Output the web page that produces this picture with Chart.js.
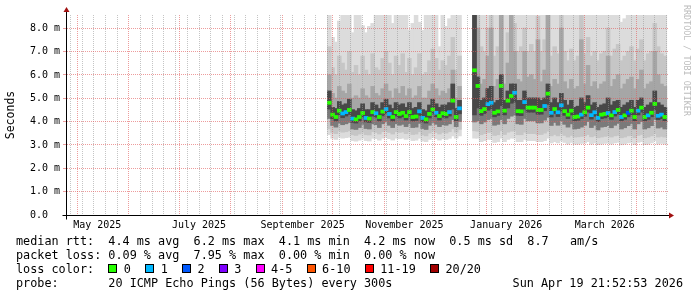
<!DOCTYPE html>
<html>
<head>
<meta charset="utf-8">
<title>SmokePing</title>
<script src="https://cdn.jsdelivr.net/npm/chart.js@4.4.1/dist/chart.umd.min.js"></script>
<style>
  html, body { margin:0; padding:0; background:#fff; }
  #wrap { position:relative; width:697px; height:297px; overflow:hidden; background:#fff; }
  #c { position:absolute; left:0; top:0; }
  .leg { position:absolute; left:16px; font-family:"DejaVu Sans Mono", monospace; font-size:11.8px; line-height:14px; color:#000; white-space:pre; }
  .box { display:inline-block; width:7px; height:7px; border:1px solid #000; margin-right:6.5px; }
  #wm { position:absolute; left:682px; top:5px; writing-mode:vertical-rl; font-family:"DejaVu Sans Mono", monospace; font-size:8.4px; line-height:10px; color:#bcbcbc; white-space:pre; }
</style>
</head>
<body>
<div id="wrap">
<canvas id="c" width="697" height="297"></canvas>
<div class="leg" style="top:234px">median rtt:  4.4 ms avg  6.2 ms max  4.1 ms min  4.2 ms now  0.5 ms sd  8.7   am/s</div>
<div class="leg" style="top:248px">packet loss: 0.09 % avg  7.95 % max  0.00 % min  0.00 % now</div>
<div class="leg" style="top:262px" id="lossRow">loss color:  </div>
<div class="leg" style="top:276px">probe:       20 ICMP Echo Pings (56 Bytes) every 300s</div>
<div class="leg" style="top:276px; left:auto; right:14px">Sun Apr 19 21:52:53 2026</div>
<div id="wm">RRDTOOL / TOBI OETIKER</div>
</div>
<script>
// ---------- axis / time definitions (days since 2025-05-01 00:00) ----------
const X_MIN_DAY = -6.1;
const X_MAX_DAY = 353.9;
const monthStartDays = [0, 31, 61, 92, 123, 153, 184, 214, 245, 276, 304, 335];
const monthLabelDays = [12, 73, 135, 196, 257, 316];
const monthLabels = ['May 2025', 'July 2025', 'September 2025', 'November 2025', 'January 2026', 'March 2026'];
const firstSundayDay = -4;          // 2025-04-27
const Y_MAX = 8.57;
const yMajorLabels = ['0.0  ', '1.0 m', '2.0 m', '3.0 m', '4.0 m', '5.0 m', '6.0 m', '7.0 m', '8.0 m'];

// ---------- loss legend ----------
const lossColors = ['#26ff00', '#00b8ff', '#0059ff', '#7e00ff', '#ff00ff', '#ff5500', '#ff0000', '#a10000'];
const lossLabels = ['0', '1', '2', '3', '4-5', '6-10', '11-19', '20/20'];

// ---------- data: 2-day columns, segment A starts 2025-09-29, segment C starts 2025-12-25 ----------
const segAStartDay = 151;
const segCStartDay = 238;
const colDays = 2;

// median rtt (ms) and loss class per column
const medianA = [4.81,4.30,4.20,4.47,4.35,4.41,4.50,4.13,4.10,4.20,
                 4.37,4.16,4.13,4.41,4.36,4.20,4.43,4.54,4.33,4.20,
                 4.41,4.33,4.38,4.24,4.41,4.20,4.22,4.44,4.16,4.10,
                 4.33,4.52,4.38,4.24,4.36,4.33,4.41,4.90,4.20,4.57];
const lossA   = [0,0,0,0,1,1,0,1,0,0, 0,1,0,0,1,0,0,1,1,0, 0,0,0,0,0,0,0,1,1,0, 0,0,1,0,0,0,1,0,0,1];
// sorted ping ranks (ms): 1st, 3rd, 6th, 9th, 12th, 15th, 18th, 20th
const ping1A  = [3.45,3.30,3.25,3.35,3.30,3.32,3.35,3.20,3.18,3.22, 3.30,3.20,3.18,3.30,3.28,3.22,3.30,3.35,3.28,3.22,
                 3.30,3.28,3.30,3.25,3.30,3.20,3.22,3.30,3.18,3.15, 3.25,3.35,3.28,3.22,3.28,3.25,3.30,3.40,3.30,3.40];
const ping3A  = [3.70,3.55,3.50,3.62,3.56,3.58,3.62,3.45,3.42,3.48, 3.56,3.45,3.44,3.58,3.55,3.48,3.58,3.62,3.55,3.48,
                 3.58,3.55,3.57,3.50,3.58,3.46,3.48,3.58,3.44,3.40, 3.52,3.62,3.55,3.48,3.55,3.52,3.58,3.70,3.56,3.68];
const ping6A  = [4.15,3.85,3.78,3.95,3.88,3.92,3.98,3.70,3.68,3.76, 3.90,3.72,3.70,3.92,3.88,3.76,3.92,4.00,3.86,3.76,
                 3.92,3.86,3.90,3.80,3.92,3.76,3.78,3.94,3.72,3.68, 3.86,3.98,3.90,3.80,3.88,3.86,3.92,4.10,3.80,4.02];
const ping9A  = [4.55,4.14,4.04,4.30,4.18,4.25,4.32,3.98,3.95,4.04, 4.20,4.00,3.98,4.25,4.20,4.04,4.26,4.36,4.17,4.04,
                 4.25,4.17,4.22,4.08,4.25,4.04,4.06,4.28,4.00,3.95, 4.17,4.34,4.22,4.08,4.20,4.17,4.25,4.55,4.05,4.35];
const ping12A = [5.30,4.60,4.55,4.85,4.70,4.75,4.95,4.50,4.45,4.55, 4.75,4.50,4.50,4.80,4.70,4.55,4.80,4.95,4.70,4.55,
                 4.80,4.70,4.75,4.60,4.80,4.55,4.60,4.80,4.50,4.45, 4.70,4.95,4.75,4.60,4.70,4.70,4.80,5.60,4.55,4.90];
const ping15A = [6.0,5.2,5.0,5.5,5.3,5.2,5.6,5.0,5.1,5.0, 5.4,5.1,5.0,5.5,5.2,5.1,5.4,5.6,5.3,5.0,
                 5.4,5.2,5.5,5.1,5.4,5.0,5.1,5.5,5.0,5.0, 5.3,5.6,5.4,5.1,5.3,5.2,5.4,6.2,5.0,5.5];
const ping18A = [7.2,6.3,6.0,6.8,6.5,6.2,7.0,6.1,6.4,6.0, 6.8,6.2,6.0,6.9,6.3,6.2,6.7,7.0,6.5,6.0,
                 6.8,6.4,6.9,6.1,6.7,6.0,6.3,6.9,6.0,6.1, 6.6,7.1,6.7,6.2,6.6,6.4,6.8,7.6,6.2,6.8];
const ping20A = [9.0,7.6,7.4,8.3,9.0,9.0,9.0,7.8,9.0,9.0, 8.1,7.8,8.07,8.2,9.0,9.0,9.0,9.0,9.0,8.2,
                 9.0,9.0,9.0,9.0,7.9,8.2,9.0,8.25,7.9,9.0, 9.0,9.0,9.0,7.2,9.0,8.07,8.4,9.0,9.0,9.0];

const medianC = [6.20,5.53,4.45,4.54,4.75,4.81,4.38,4.44,5.53,4.47,
                 4.90,5.10,5.24,4.45,4.44,4.84,4.60,4.60,4.60,4.50,
                 4.50,4.67,5.20,4.38,4.54,4.40,4.70,4.45,4.30,4.47,
                 4.20,4.22,4.30,4.40,4.60,4.28,4.40,4.16,4.30,4.33,
                 4.37,4.27,4.41,4.50,4.20,4.27,4.38,4.47,4.20,4.47,
                 4.60,4.20,4.27,4.38,4.76,4.25,4.30,4.20];
const lossC   = [0,0,0,0,1,1,0,0,0,0, 0,0,1,0,0,1,0,0,0,0, 0,1,0,1,0,1,1,0,0,0,
                 0,0,1,0,0,1,1,1,0,0, 1,0,1,0,1,0,2,0,0,1, 0,0,1,0,0,1,1,0];
const ping1C  = [3.30,3.30,3.15,3.20,3.25,3.25,3.12,3.15,3.30,3.15, 3.25,3.30,3.30,3.15,3.15,3.25,3.20,3.20,3.20,3.15,
                 3.15,3.20,3.30,3.10,3.15,3.10,3.20,3.12,3.05,3.12, 3.05,3.05,3.08,3.10,3.15,3.05,3.10,3.02,3.05,3.08,
                 3.10,3.05,3.10,3.12,3.02,3.05,3.10,3.12,3.02,3.12, 3.15,3.02,3.05,3.10,3.20,3.05,3.08,3.05];
const ping3C  = [3.62,3.60,3.45,3.50,3.55,3.56,3.42,3.45,3.62,3.46, 3.56,3.60,3.62,3.45,3.45,3.56,3.50,3.50,3.50,3.46,
                 3.46,3.52,3.60,3.40,3.46,3.40,3.52,3.42,3.35,3.42, 3.35,3.36,3.38,3.40,3.46,3.36,3.40,3.32,3.35,3.38,
                 3.40,3.35,3.40,3.42,3.32,3.35,3.40,3.42,3.32,3.42, 3.46,3.32,3.35,3.40,3.50,3.35,3.38,3.35];
const ping6C  = [4.00,4.05,3.92,4.00,4.10,4.15,3.86,3.90,4.10,3.92, 4.15,4.25,4.30,3.92,3.90,4.15,4.05,4.05,4.05,3.96,
                 3.96,4.08,4.20,3.85,3.98,3.86,4.05,3.90,3.78,3.92, 3.70,3.72,3.78,3.86,4.02,3.76,3.86,3.66,3.78,3.80,
                 3.84,3.75,3.86,3.94,3.70,3.75,3.84,3.92,3.70,3.92, 4.02,3.70,3.75,3.84,4.10,3.74,3.78,3.70];
const ping9C  = [4.30,4.60,4.28,4.36,4.50,4.55,4.22,4.28,4.70,4.30, 4.60,4.80,4.85,4.28,4.27,4.55,4.42,4.42,4.42,4.33,
                 4.33,4.48,4.75,4.21,4.36,4.23,4.45,4.28,4.14,4.30, 4.05,4.07,4.14,4.24,4.42,4.12,4.24,4.01,4.14,4.17,
                 4.21,4.11,4.25,4.33,4.05,4.11,4.22,4.30,4.05,4.30, 4.42,4.05,4.11,4.22,4.52,4.10,4.14,4.05];
const ping12C = [9.0,5.9,4.9,5.0,5.4,5.5,4.8,4.9,6.0,4.9, 5.3,5.6,5.6,4.9,4.9,5.3,5.0,5.0,5.0,5.0,
                 4.9,5.0,5.6,4.8,5.0,4.8,5.2,4.9,4.7,4.9, 4.6,4.65,5.0,4.8,5.1,4.7,4.8,4.6,4.7,4.75,
                 5.0,4.7,4.85,4.9,4.6,4.7,4.8,4.9,4.6,4.9, 5.0,4.6,4.7,4.8,5.3,4.8,4.7,4.6];
const ping15C = [9.0,8.0,5.6,5.8,6.8,8.0,5.5,5.8,9.0,5.6, 6.5,9.0,7.0,5.8,5.7,7.0,5.9,6.0,5.8,7.5,
                 5.7,6.2,8.6,5.5,5.8,5.6,8.0,5.7,5.4,5.8, 5.4,5.5,7.5,5.6,6.4,5.5,5.7,5.4,5.6,5.7,
                 6.8,5.5,5.8,6.0,5.4,5.6,5.8,5.9,5.4,5.8, 6.2,5.4,5.6,5.7,7.0,6.0,5.6,5.5];
const ping18C = [9.0,9.0,7.2,7.0,8.0,9.0,6.8,7.2,9.0,7.0, 7.8,9.0,8.2,7.0,7.2,8.0,7.0,7.3,7.0,8.5,
                 7.0,7.5,9.0,6.8,7.2,6.9,9.0,7.0,6.6,7.1, 6.6,6.8,8.6,6.9,7.6,6.8,7.0,6.6,6.9,7.0,
                 8.0,6.8,7.1,7.3,6.6,6.8,7.0,7.2,6.6,7.1, 7.5,6.6,6.9,7.0,8.2,7.2,6.9,6.8];
const ping20C = [9.0,9.0,9.0,9.0,9.0,9.0,9.0,9.0,9.0,9.0, 9.0,9.0,9.0,9.0,9.0,9.0,9.0,9.0,9.0,9.0,
                 9.0,9.0,9.0,9.0,9.0,9.0,9.0,9.0,9.0,9.0, 9.0,9.0,9.0,9.0,9.0,9.0,9.0,9.0,9.0,9.0,
                 9.0,9.0,9.0,9.0,8.25,8.4,9.0,9.0,9.0,9.0, 9.0,9.0,9.0,9.0,9.0,9.0,9.0,9.0];

// ---------- styles ----------
const MEDIAN_HALF = 0.055;
const MINOR_GRID = 'rgba(150,150,150,0.55)';
const MAJOR_GRID = 'rgba(225,90,90,0.6)';
const FONT = 'DejaVu Sans Mono';

// ---------- loss legend (HTML text) ----------
(function () {
  const row = document.getElementById('lossRow');
  lossLabels.forEach((lab, i) => {
    const b = document.createElement('span');
    b.className = 'box';
    b.style.background = lossColors[i];
    row.appendChild(b);
    row.appendChild(document.createTextNode(lab + (i < lossLabels.length - 1 ? '  ' : '')));
  });
})();

// ---------- build datasets ----------
function colDaysFor(start, n) { const out = []; for (let i = 0; i < n; i++) out.push(start + i * colDays); return out; }
const days = colDaysFor(segAStartDay, medianA.length).concat(colDaysFor(segCStartDay, medianC.length));
const median = medianA.concat(medianC);
const loss = lossA.concat(lossC);
const p1 = ping1A.concat(ping1C), p3 = ping3A.concat(ping3C), p6 = ping6A.concat(ping6C), p9 = ping9A.concat(ping9C);
const p12 = ping12A.concat(ping12C), p15 = ping15A.concat(ping15C), p18 = ping18A.concat(ping18C), p20 = ping20A.concat(ping20C);

function band(lo, hi) { return days.map((d, i) => ({ x: d, y: [lo[i], hi[i]] })); }
const common = { grouped: false, barPercentage: 1, categoryPercentage: 1, borderWidth: 0, inflateAmount: 0.6, xAxisID: 'x', yAxisID: 'y' };
// smoke bands, front (dark, inner ranks) to back (light, outer ranks)
const smoke = [
  { label: 'ping 9-12',  lo: p9, hi: p12, color: '#484848' },
  { label: 'ping 6-12',  lo: p6, hi: p12, color: '#7a7a7a' },
  { label: 'ping 6-15',  lo: p6, hi: p15, color: '#a6a6a6' },
  { label: 'ping 3-18',  lo: p3, hi: p18, color: '#c6c6c6' },
  { label: 'ping 1-20',  lo: p1, hi: p20, color: '#dcdcdc' }
];
const datasets = [
  Object.assign({ label: 'median', order: 0, data: days.map((d, i) => ({ x: d, y: [median[i] - MEDIAN_HALF, median[i] + MEDIAN_HALF] })),
                  backgroundColor: loss.map(l => lossColors[l]) }, common)
].concat(smoke.map((s, k) => Object.assign({ label: s.label, order: k + 1, data: band(s.lo, s.hi), backgroundColor: s.color }, common)));

// ---------- ticks ----------
const weekTicks = [];
for (let d = firstSundayDay; d <= X_MAX_DAY; d += 7) if (d >= X_MIN_DAY && monthStartDays.indexOf(d) < 0) weekTicks.push({ value: d, kind: 'week' });
const labelTicks = monthLabelDays.map((d, i) => ({ value: d, kind: 'label', text: monthLabels[i] }));
const x2Ticks = weekTicks.concat(labelTicks).sort((a, b) => a.value - b.value);
const yTicks = [];
for (let i = 0; i * 0.5 <= Y_MAX; i++) yTicks.push({ value: i * 0.5 });

// ---------- rrdtool style axes with arrows ----------
const rrdAxes = {
  id: 'rrdAxes',
  afterDraw(chart) {
    const a = chart.chartArea, ctx = chart.ctx;
    const yb = Math.round(a.bottom) + 0.5, xl = Math.round(a.left) - 0.5;
    ctx.save();
    ctx.strokeStyle = '#000'; ctx.lineWidth = 1;
    ctx.beginPath();
    ctx.moveTo(xl - 4, yb); ctx.lineTo(a.right + 2, yb);
    ctx.moveTo(xl, yb + 4); ctx.lineTo(xl, a.top - 3);
    ctx.stroke();
    ctx.fillStyle = '#a01010';
    ctx.beginPath();
    ctx.moveTo(a.right + 1, yb - 3); ctx.lineTo(a.right + 6, yb); ctx.lineTo(a.right + 1, yb + 3); ctx.closePath(); ctx.fill();
    ctx.beginPath();
    ctx.moveTo(xl - 3, a.top - 3); ctx.lineTo(xl, a.top - 8); ctx.lineTo(xl + 3, a.top - 3); ctx.closePath(); ctx.fill();
    ctx.restore();
  }
};

Chart.defaults.font.family = FONT;
Chart.defaults.color = '#000';

new Chart(document.getElementById('c'), {
  type: 'bar',
  data: { datasets },
  plugins: [rrdAxes],
  options: {
    responsive: false,
    animation: false,
    devicePixelRatio: 1,
    events: [],
    layout: { padding: { left: 0, right: 29, top: 15, bottom: 62 } },
    plugins: { legend: { display: false }, tooltip: { enabled: false } },
    scales: {
      x: {
        type: 'linear', min: X_MIN_DAY, max: X_MAX_DAY, position: 'bottom', offset: false,
        afterBuildTicks: s => { s.ticks = monthStartDays.map(d => ({ value: d })); },
        afterFit: s => { s.height = 0; },
        ticks: { display: false },
        grid: { color: MAJOR_GRID, lineWidth: 1, drawTicks: false, offset: false, z: 1 },
        border: { display: false, dash: [1, 1] }
      },
      x2: {
        type: 'linear', min: X_MIN_DAY, max: X_MAX_DAY, position: 'bottom', offset: false,
        afterBuildTicks: s => { s.ticks = x2Ticks.map(t => Object.assign({}, t)); },
        afterFit: s => { s.height = 20; },
        ticks: {
          autoSkip: false, maxRotation: 0, minRotation: 0, padding: 4,
          font: { family: FONT, size: 10 }, color: '#000',
          callback: (v, i, ticks) => ticks[i].kind === 'label' ? ticks[i].text : ''
        },
        grid: {
          z: 1, drawTicks: false, lineWidth: 1, offset: false,
          color: c => (c.tick && c.tick.kind === 'week') ? MINOR_GRID : 'rgba(0,0,0,0)'
        },
        border: { display: false, dash: [1, 1] }
      },
      y: {
        min: 0, max: Y_MAX, position: 'left',
        afterBuildTicks: s => { s.ticks = yTicks.map(t => ({ value: t.value })); },
        afterFit: s => { s.width = 67; },
        ticks: {
          padding: 3, font: { family: FONT, size: 10 }, color: '#000',
          callback: v => Number.isInteger(v) ? yMajorLabels[v] : ''
        },
        grid: {
          z: 1, drawTicks: true, tickLength: 4, lineWidth: 1,
          color: c => (c.tick && Number.isInteger(c.tick.value)) ? MAJOR_GRID : MINOR_GRID,
          tickColor: c => (c.tick && Number.isInteger(c.tick.value)) ? MAJOR_GRID : MINOR_GRID
        },
        border: { display: false, dash: [1, 1] },
        title: { display: true, text: 'Seconds', font: { family: FONT, size: 11.5 }, color: '#000', padding: { top: 4, bottom: 0 } }
      }
    }
  }
});
</script>
</body>
</html>
